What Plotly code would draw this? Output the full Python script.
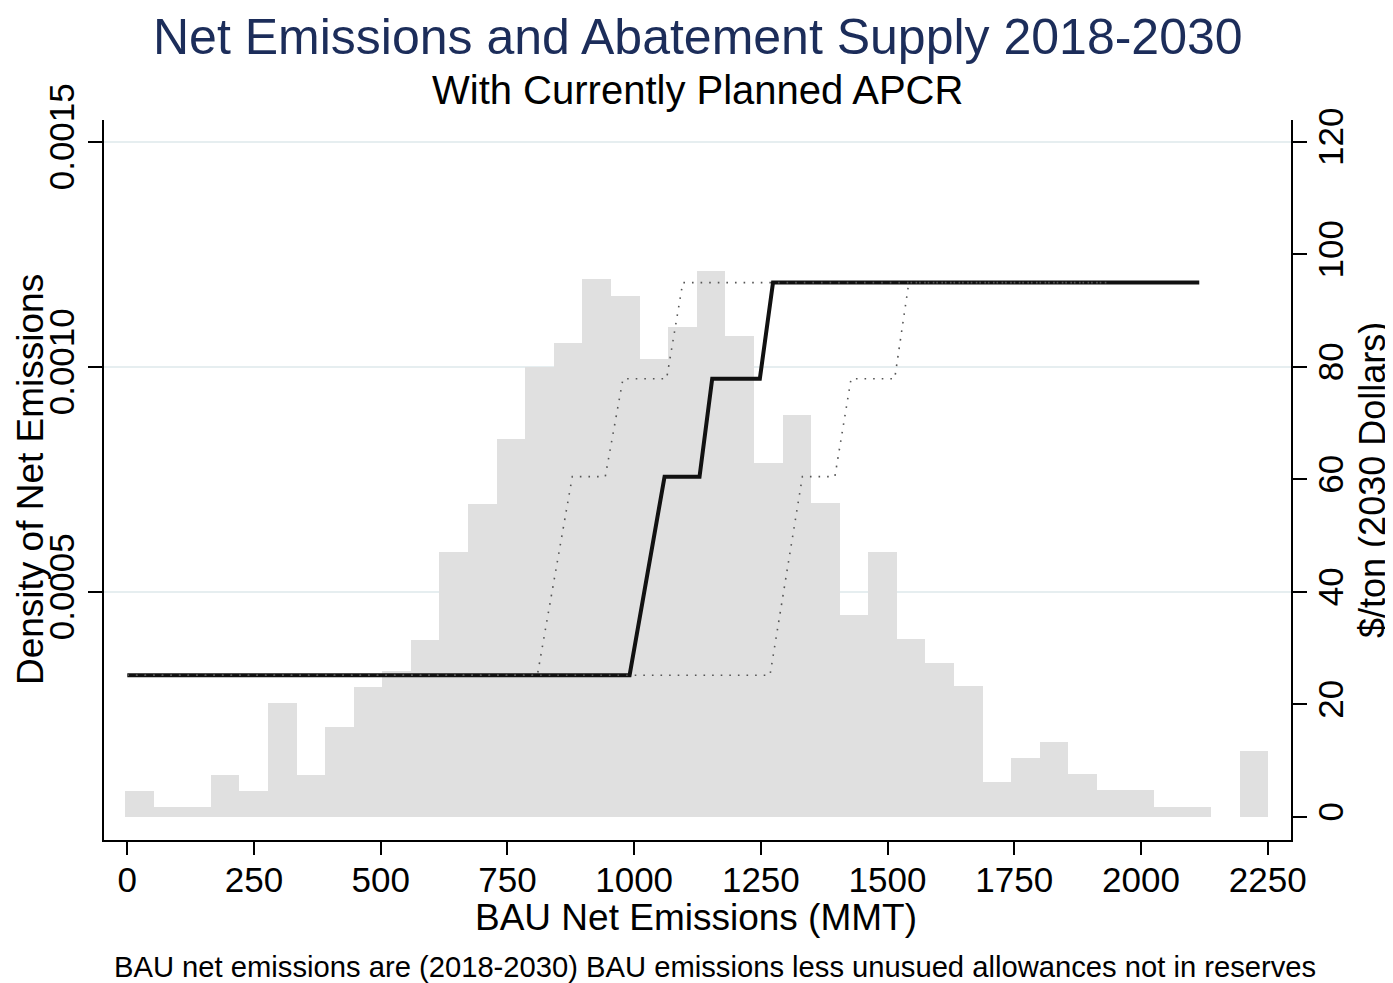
import plotly.graph_objects as go

# ---------------- data ----------------
# Histogram of BAU net emissions (density), 40 equal bins
hist_start = -4.5          # left edge of first bin (MMT)
hist_binwidth = 56.4       # bin width (MMT)
density = [
    5.8e-5, 2.2e-5, 2.2e-5, 9.4e-5, 5.8e-5, 2.54e-4, 9.4e-5, 2.0e-4, 2.9e-4, 3.25e-4,
    3.94e-4, 5.9e-4, 6.96e-4, 8.39e-4, 9.99e-4, 1.054e-3, 1.195e-3, 1.158e-3, 1.018e-3, 1.09e-3,
    1.213e-3, 1.07e-3, 7.87e-4, 8.93e-4, 6.98e-4, 4.5e-4, 5.9e-4, 3.96e-4, 3.42e-4, 2.91e-4,
    7.8e-5, 1.31e-4, 1.67e-4, 9.5e-5, 5.9e-5, 5.9e-5, 2.3e-5, 2.3e-5, 0.0, 1.47e-4,
]

# Abatement supply curves ($/ton, 2030 dollars)
supply_price = [25.2, 25.2, 60.5, 60.5, 77.9, 77.9, 95.0, 95.0]
supply_mid_x = [0, 991, 1060, 1129, 1154, 1248, 1274, 2115]
supply_low_x = [0, 809, 878, 943, 978, 1064, 1096, 1934]
supply_high_x = [0, 1268, 1332, 1396, 1428, 1514, 1542, 1934]

x_ticks = [0, 250, 500, 750, 1000, 1250, 1500, 1750, 2000, 2250]
y_ticks = [0.0005, 0.0010, 0.0015]
y_ticktext = ["0.0005", "0.0010", "0.0015"]
y2_ticks = [0, 20, 40, 60, 80, 100, 120]

# ---------------- figure ----------------
FONT = "Liberation Sans, Arial, Helvetica, sans-serif"
bin_centers = [hist_start + hist_binwidth * (i + 0.5) for i in range(len(density))]

fig = go.Figure()
fig.add_trace(go.Bar(
    x=bin_centers, y=density, width=hist_binwidth,
    marker=dict(color="#e0e0e0", line=dict(width=0)),
    yaxis="y", showlegend=False, hoverinfo="skip",
))
fig.add_trace(go.Scatter(
    x=supply_mid_x, y=supply_price, mode="lines",
    line=dict(color="#111111", width=4), yaxis="y2", showlegend=False,
))
fig.add_trace(go.Scatter(
    x=supply_low_x, y=supply_price, mode="lines",
    line=dict(color="#555555", width=1.6, dash="1.6px,7px"), yaxis="y2", showlegend=False,
))
fig.add_trace(go.Scatter(
    x=supply_high_x, y=supply_price, mode="lines",
    line=dict(color="#555555", width=1.6, dash="1.6px,7px"), yaxis="y2", showlegend=False,
))

axis_common = dict(
    showline=True, linecolor="black", linewidth=2,
    ticks="outside", ticklen=14, tickwidth=2, tickcolor="black",
    tickfont=dict(family=FONT, size=35, color="black"),
    zeroline=False, automargin=False,
)

fig.update_layout(
    width=1385, height=975,
    margin=dict(l=96, r=102, t=112, b=143),
    paper_bgcolor="white", plot_bgcolor="white",
    bargap=0,
    xaxis=dict(range=[-46, 2296], tickvals=x_ticks, showgrid=False,
               ticklabelstandoff=-5,
               **{**axis_common, "ticklen": 13}),
    yaxis=dict(range=[-5.11e-5, 0.0015489], tickvals=y_ticks, ticktext=y_ticktext,
               tickangle=-90, showgrid=True, gridcolor="#e6eef0", gridwidth=2,
               **axis_common),
    yaxis2=dict(range=[-4.09, 123.9], tickvals=y2_ticks, overlaying="y", side="right",
                tickangle=-90, showgrid=False, ticklabelstandoff=-6, **axis_common),
    annotations=[
        dict(text="Net Emissions and Abatement Supply 2018-2030", xref="paper", yref="paper",
             x=0.5, y=1.1153, xanchor="center", yanchor="middle", showarrow=False,
             font=dict(family=FONT, size=50, color="#1c2d5a")),
        dict(text="With Currently Planned APCR", xref="paper", yref="paper",
             x=0.5, y=1.0417, xanchor="center", yanchor="middle", showarrow=False,
             font=dict(family=FONT, size=40, color="black")),
        dict(text="BAU Net Emissions (MMT)", xref="paper", yref="paper",
             x=0.499, y=-0.1083, xanchor="center", yanchor="middle", showarrow=False,
             font=dict(family=FONT, size=37, color="black")),
        dict(text="BAU net emissions are (2018-2030) BAU emissions less unusued allowances not in reserves",
             xref="paper", yref="paper",
             x=0.5147, y=-0.1764, xanchor="center", yanchor="middle", showarrow=False,
             font=dict(family=FONT, size=29.2, color="black")),
        dict(text="Density of Net Emissions", xref="paper", yref="paper",
             x=-0.0623, y=0.5, xanchor="center", yanchor="middle", textangle=-90,
             showarrow=False, font=dict(family=FONT, size=37, color="black")),
        dict(text="$/ton (2030 Dollars)", xref="paper", yref="paper",
             x=1.0682, y=0.5, xanchor="center", yanchor="middle", textangle=-90,
             showarrow=False, font=dict(family=FONT, size=36, color="black")),
    ],
)

fig.write_html("out.html")
